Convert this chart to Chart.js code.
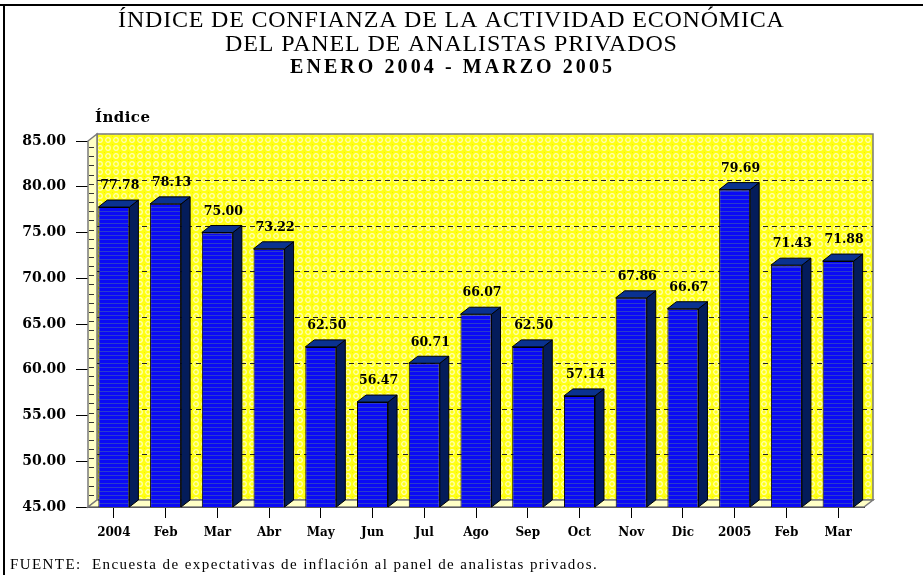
<!DOCTYPE html>
<html>
<head>
<meta charset="utf-8">
<style>
  html, body { margin: 0; padding: 0; background: #fff; }
  #wrap { width: 923px; height: 575px; position: relative; }
</style>
</head>
<body>
<div id="wrap"><canvas id="chart" width="923" height="575"></canvas></div>
<script src="https://cdn.jsdelivr.net/npm/chart.js"></script>
<script>
// data
const months = ['2004', 'Feb', 'Mar', 'Abr', 'May', 'Jun', 'Jul', 'Ago', 'Sep', 'Oct', 'Nov', 'Dic', '2005', 'Feb', 'Mar'];
const indice = [77.78, 78.13, 75.00, 73.22, 62.50, 56.47, 60.71, 66.07, 62.50, 57.14, 67.86, 66.67, 79.69, 71.43, 71.88];
const yMin = 45, yMax = 85, yStep = 5;
const titleLines = ['ÍNDICE DE CONFIANZA DE LA ACTIVIDAD ECONÓMICA', 'DEL PANEL DE ANALISTAS PRIVADOS', 'ENERO 2004 - MARZO 2005'];
const axisTitle = 'Índice';
const footer = 'FUENTE:  Encuesta de expectativas de inflación al panel de analistas privados.';

const DX = 9, DY = 7; // depth of the 3d look
const boldSerif = 'bold 12.5px "DejaVu Serif"';

// yellow patterned wall
function wallPattern(ctx) {
  const c = document.createElement('canvas');
  c.width = 8; c.height = 8;
  const g = c.getContext('2d');
  g.fillStyle = '#ffff14';
  g.fillRect(0, 0, 8, 8);
  g.strokeStyle = '#ffffb4';
  g.lineWidth = 1.2;
  g.beginPath(); g.arc(4, 4, 2.3, 0, Math.PI * 2); g.stroke();
  g.fillStyle = '#f2f200';
  g.fillRect(0, 0, 1, 1);
  return ctx.createPattern(c, 'repeat');
}

// blue striped bar front
function barPattern(ctx) {
  const c = document.createElement('canvas');
  c.width = 4; c.height = 4;
  const g = c.getContext('2d');
  g.fillStyle = '#0a0af5';
  g.fillRect(0, 0, 4, 4);
  g.fillStyle = '#2a3ccc';
  g.fillRect(0, 3, 4, 1);
  return ctx.createPattern(c, 'repeat');
}

// draw text stretched/squeezed to a given width
function fitText(ctx, text, x, y, width, font, align) {
  ctx.font = font;
  ctx.letterSpacing = '0px';
  const w = ctx.measureText(text).width;
  const ls = (width - w) / Math.max(1, text.length - 1);
  ctx.letterSpacing = ls.toFixed(2) + 'px';
  ctx.textAlign = align || 'center';
  ctx.fillText(text, align === 'left' ? x : x + ls / 2, y);
  ctx.letterSpacing = '0px';
}

const decor = {
  id: 'decor',
  beforeDatasetsDraw(chart) {
    const { ctx, chartArea: a, scales: { y } } = chart;
    ctx.save();
    // back wall
    ctx.fillStyle = wallPattern(ctx);
    ctx.fillRect(a.left + DX, a.top - DY, a.right - a.left, a.bottom - a.top);
    ctx.strokeStyle = '#7a7a7a';
    ctx.lineWidth = 1.5;
    ctx.strokeRect(a.left + DX, a.top - DY, a.right - a.left, a.bottom - a.top);
    // left wall
    ctx.fillStyle = '#ffffc6';
    ctx.beginPath();
    ctx.moveTo(a.left, a.top); ctx.lineTo(a.left + DX, a.top - DY);
    ctx.lineTo(a.left + DX, a.bottom - DY); ctx.lineTo(a.left, a.bottom);
    ctx.closePath(); ctx.fill(); ctx.stroke();
    // floor
    ctx.beginPath();
    ctx.moveTo(a.left, a.bottom); ctx.lineTo(a.left + DX, a.bottom - DY);
    ctx.lineTo(a.right + DX, a.bottom - DY); ctx.lineTo(a.right, a.bottom);
    ctx.closePath(); ctx.fill(); ctx.stroke();
    // small ticks on the left wall
    ctx.strokeStyle = '#333';
    ctx.lineWidth = 1;
    for (let v = yMin + 1; v < yMax; v++) {
      const py = Math.round(y.getPixelForValue(v)) - 2.5;
      ctx.beginPath(); ctx.moveTo(a.left + 1, py); ctx.lineTo(a.left + 6, py); ctx.stroke();
    }
    // dashed grid on the back wall
    ctx.setLineDash([5, 4]);
    ctx.strokeStyle = '#222';
    for (let v = yMin + yStep; v < yMax; v += yStep) {
      const py = Math.round(y.getPixelForValue(v) - DY) + 0.5;
      ctx.beginPath(); ctx.moveTo(a.left + DX, py); ctx.lineTo(a.right + DX, py); ctx.stroke();
    }
    ctx.restore();
  },
  afterDatasetsDraw(chart) {
    const { ctx, chartArea: a } = chart;
    const meta = chart.getDatasetMeta(0);
    ctx.save();
    ctx.strokeStyle = '#000';
    ctx.lineWidth = 1;
    meta.data.forEach((bar, i) => {
      const l = bar.x - bar.width / 2, r = bar.x + bar.width / 2, t = bar.y;
      const b = Math.min(bar.base, a.bottom);
      // side
      ctx.fillStyle = '#041c5a';
      ctx.beginPath();
      ctx.moveTo(r, t); ctx.lineTo(r + DX, t - DY); ctx.lineTo(r + DX, b - DY); ctx.lineTo(r, b);
      ctx.closePath(); ctx.fill(); ctx.stroke();
      // top
      ctx.fillStyle = '#0a3290';
      ctx.beginPath();
      ctx.moveTo(l, t); ctx.lineTo(l + DX, t - DY); ctx.lineTo(r + DX, t - DY); ctx.lineTo(r, t);
      ctx.closePath(); ctx.fill(); ctx.stroke();
      // value label
      ctx.fillStyle = '#000';
      ctx.font = boldSerif;
      ctx.textAlign = 'center';
      ctx.textBaseline = 'middle';
      ctx.fillText(indice[i].toFixed(2), bar.x + 6, t - 21);
    });
    ctx.restore();
  },
  afterDraw(chart) {
    const { ctx } = chart;
    ctx.save();
    ctx.fillStyle = '#000';
    ctx.textBaseline = 'middle';
    fitText(ctx, titleLines[0], 451, 21, 666, '24px "Liberation Serif"');
    fitText(ctx, titleLines[1], 451, 45, 452, '24px "Liberation Serif"');
    fitText(ctx, titleLines[2], 451, 68, 322, 'bold 20px "Liberation Serif"');
    fitText(ctx, axisTitle, 95, 118, 55, 'bold 15px "DejaVu Serif"', 'left');
    fitText(ctx, footer, 10, 565, 587, '15px "Liberation Serif"', 'left');
    // frame
    ctx.fillRect(0, 4, 923, 2);
    ctx.fillRect(3, 4, 2, 571);
    ctx.restore();
  }
};

const ctx = document.getElementById('chart').getContext('2d');
new Chart(ctx, {
  type: 'bar',
  data: {
    labels: months,
    datasets: [{
      data: indice,
      backgroundColor: barPattern(ctx),
      borderColor: '#000',
      borderWidth: 1,
      barPercentage: 0.6,
      categoryPercentage: 1
    }]
  },
  options: {
    responsive: false,
    animation: false,
    layout: { padding: { top: 141, right: 59, left: 0, bottom: 0 } },
    plugins: { legend: { display: false }, tooltip: { enabled: false } },
    scales: {
      x: {
        afterFit: s => { s.height = 68; },
        grid: { drawOnChartArea: false, offset: false, tickLength: 11, color: '#000' },
        border: { color: '#000' },
        ticks: { color: '#000', font: { family: 'DejaVu Serif', weight: 'bold', size: 12 }, padding: 8, maxRotation: 0 }
      },
      y: {
        min: yMin, max: yMax,
        afterFit: s => { s.width = 88; },
        grid: { drawOnChartArea: false, tickLength: 12, color: '#000' },
        border: { color: '#000' },
        ticks: {
          stepSize: yStep, color: '#000', padding: 10,
          font: { family: 'DejaVu Serif', weight: 'bold', size: 14 },
          callback: v => v.toFixed(2)
        }
      }
    }
  },
  plugins: [decor]
});
</script>
</body>
</html>
